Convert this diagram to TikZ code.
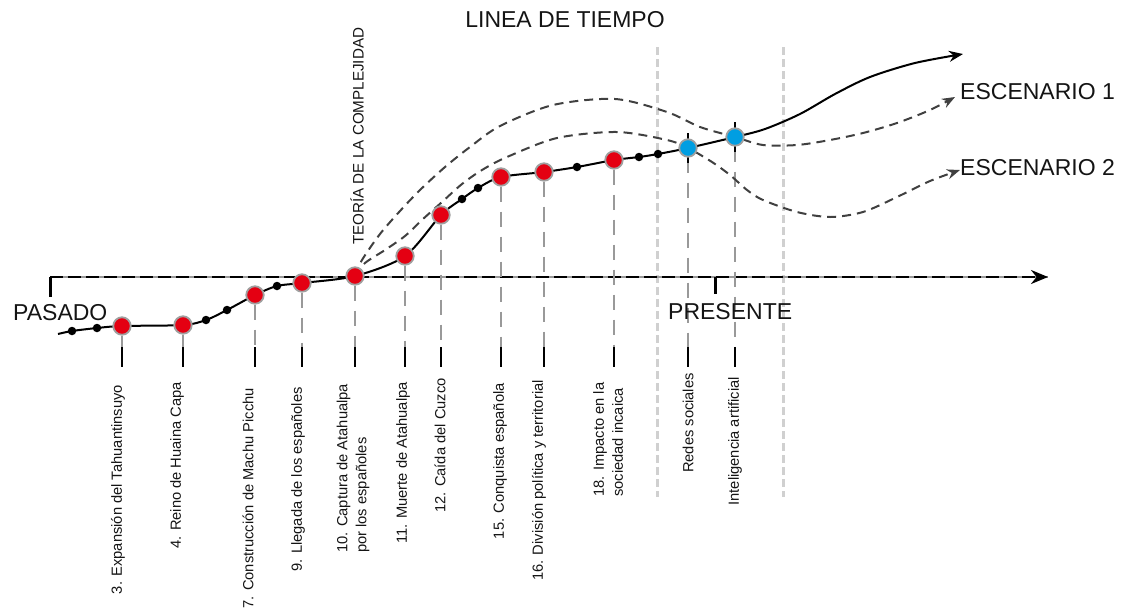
\documentclass[tikz,border=0pt]{standalone}
\usepackage{fontspec}
\setmainfont{Liberation Sans}
\usetikzlibrary{arrows.meta,calc}
\definecolor{dotred}{RGB}{228,0,18}
\definecolor{dotblue}{RGB}{0,158,226}
\definecolor{dashgray}{RGB}{64,64,64}
\definecolor{dropgray}{RGB}{153,153,153}
\definecolor{colgray}{RGB}{208,208,208}
\definecolor{rimgray}{RGB}{160,160,160}
\definecolor{txt}{RGB}{20,20,20}
\begin{document}
\begin{tikzpicture}[x=1pt,y=-1pt,
  reddot/.style={circle,fill=dotred,draw=rimgray,line width=1.8pt,minimum size=17.5pt,inner sep=0pt},
  bluedot/.style={reddot,fill=dotblue},
  blackdot/.style={circle,fill=black,minimum size=8.5pt,inner sep=0pt},
  evlabel/.style={rotate=90,font=\fontsize{14.7}{19}\selectfont,inner sep=0pt,align=left,text=txt},
  bigtext/.style={font=\fontsize{23}{27}\selectfont,inner sep=0pt,text=txt},
  dropline/.style={draw=dropgray,line width=2pt,dash pattern=on 15pt off 10pt},
  droptick/.style={draw=black,line width=2pt},
  scen/.style={draw=dashgray,line width=2pt,dash pattern=on 9pt off 6pt,-{Stealth[length=13pt,width=10pt]}},
  maincurve/.style={draw=black,line width=2pt,-{Stealth[length=14pt,width=11pt]}},
  column/.style={draw=colgray,line width=3pt,dash pattern=on 8pt off 4pt},
  axisline/.style={line width=2.6pt},
]
\useasboundingbox (0,0) rectangle (1131,614);

% reference coordinates
\coordinate (dropbase) at (0,347);
\coordinate (dropend) at (0,367);
\coordinate (ax0) at (50,277);
\coordinate (ax1) at (1048,277);
\coordinate (ax0b) at (50,297);
\coordinate (pr) at (715,277);
\coordinate (prb) at (715,294);

% curve points
\coordinate (c0) at (58,334);
\coordinate (k1) at (72,331);
\coordinate (k2) at (97,328);
\coordinate (p3) at (122,326);
\coordinate (p4) at (183,325);
\coordinate (k3) at (206,320);
\coordinate (k4) at (227,310);
\coordinate (p7) at (255,295);
\coordinate (k5) at (277,286);
\coordinate (p9) at (302,283);
\coordinate (p10) at (355,276);
\coordinate (p11) at (405,256);
\coordinate (p12) at (441,215);
\coordinate (k6) at (462,199);
\coordinate (k7) at (478,188);
\coordinate (p15) at (501,177);
\coordinate (p16) at (544,172);
\coordinate (k8) at (577,167);
\coordinate (p18) at (614,160);
\coordinate (k9) at (639,157);
\coordinate (k10) at (658,154);
\coordinate (b1) at (688,148);
\coordinate (b2) at (735,137);
\coordinate (tip) at (963,54);
\coordinate (e1tip) at (955,97);
\coordinate (e2tip) at (960,170);

% light gray columns
\coordinate (col1t) at (657,47);
\coordinate (col1b) at (657,497);
\coordinate (col2t) at (783,47);
\coordinate (col2b) at (783,497);
\draw[column] (col1t) -- (col1b);
\draw[column] (col2t) -- (col2b);

% axis
\draw[axisline,draw=dropgray] (ax0) -- (ax1);
\draw[axisline,draw=black,dash pattern=on 13pt off 5pt,-{Stealth[length=17pt,width=14pt]}] (ax0) -- (ax1);
\draw[axisline,line width=3pt] (ax0) -- (ax0b);
\draw[axisline,line width=3pt] (pr) -- (prb);

% invisible anchors for dot nodes
\foreach \p in {p3,p4,p7,p9,p10,p11,p12,p15,p16,p18,b1,b2}{
  \node[reddot,draw=none,fill=none] (n\p) at (\p) {};
}

% drop lines
\foreach \p in {p3,p4,p7,p9,p10,p11,p12,p15,p16,p18,b1,b2}{
  \draw[dropline] (n\p.south) -- (n\p.south |- dropbase);
  \draw[droptick] (n\p |- dropbase) -- (n\p |- dropend);
}

% scenario curves
\draw[scen] plot[smooth,tension=0.5] coordinates {(p10) (362,260) (380,234) (400,211) (420,190) (445,167) (470,147) (500,126) (553,105) (615,99) (667,112) (700,127) (b2) (763,145) (797,145) (830,140) (863,133) (897,123) (930,110) (e1tip)};
\draw[scen] plot[smooth,tension=0.5] coordinates {(p10) (365,263) (385,250) (405,236) (423,219) (442,202) (462,184) (482,170) (507,157) (557,138) (617,132) (667,140) (b1) (712,162) (730,175) (747,190) (763,200) (797,212) (830,217) (863,212) (897,197) (930,181) (e2tip)};

% main curve
\draw[maincurve] plot[smooth,tension=0.5] coordinates {(c0) (k1) (k2) (p3) (p4) (k3) (k4) (p7) (k5) (p9) (p10) (p11) (p12) (k6) (k7) (p15) (p16) (k8) (p18) (k9) (k10) (b1) (b2) (765,129) (800,114) (835,94) (870,77) (915,63) (tip)};

% black ticks through blue dots
\draw[droptick] ($(b1)+(0,-15)$) -- ($(b1)+(0,15)$);
\draw[droptick] ($(b2)+(0,-15)$) -- ($(b2)+(0,15)$);

% visible dots
\foreach \p in {p3,p4,p7,p9,p10,p11,p12,p15,p16,p18}{
  \node[reddot] (m\p) at (\p) {};
}
\node[bluedot] (mb1) at (b1) {};
\node[bluedot] (mb2) at (b2) {};
\foreach \k in {k1,k2,k3,k4,k5,k6,k7,k8,k9,k10}{
  \node[blackdot] (m\k) at (\k) {};
}

% event labels
\node[evlabel,anchor=east] (l3) at (118,385) {3. Expansión del Tahuantinsuyo};
\node[evlabel,anchor=east] (l4) at (177,382) {4. Reino de Huaina Capa};
\node[evlabel,anchor=east] (l7) at (248,388) {7. Construcción de Machu Picchu};
\node[evlabel,anchor=east] (l9) at (298,387) {9. Llegada de los españoles};
\node[evlabel,anchor=west] (l10) at (353,553) {10. Captura de Atahualpa\\por los españoles};
\node[evlabel,anchor=east] (l11) at (403,382) {11. Muerte de Atahualpa};
\node[evlabel,anchor=east] (l12) at (440,378) {12. Caída del Cuzco};
\node[evlabel,anchor=east] (l15) at (500,383) {15. Conquista española};
\node[evlabel,anchor=east] (l16) at (539,380) {16. División política y territorial};
\node[evlabel,anchor=west] (l18) at (608,497) {18. Impacto en la\\sociedad incaica};
\node[evlabel,anchor=east] (lr) at (688,373) {Redes sociales};
\node[evlabel,anchor=east] (li) at (735,377) {Inteligencia artificial};

% big texts
\node[rotate=90,anchor=west,font=\fontsize{15.2}{18}\selectfont,inner sep=0pt,text=txt] (teo) at (357,245) {TEORÍA DE LA COMPLEJIDAD};
\node[bigtext] (title) at (565,20) {LINEA DE TIEMPO};
\node[bigtext,anchor=west] (e1) at (960,92) {ESCENARIO 1};
\node[bigtext,anchor=west] (e2) at (960,168) {ESCENARIO 2};
\node[bigtext,anchor=west] (pasado) at (13,313) {PASADO};
\node[bigtext,anchor=west] (presente) at (668,312) {PRESENTE};
\end{tikzpicture}
\end{document}
